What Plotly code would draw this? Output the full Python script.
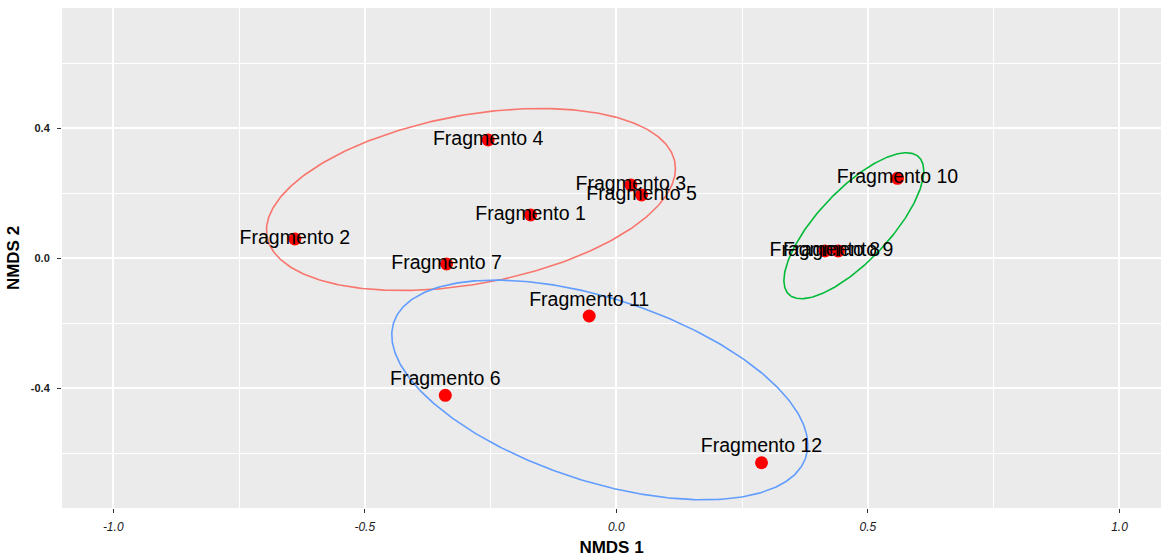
import numpy as np
import plotly.graph_objects as go

# ---- data ----
labels = ["Fragmento 1", "Fragmento 2", "Fragmento 3", "Fragmento 4", "Fragmento 5",
          "Fragmento 6", "Fragmento 7", "Fragmento 8", "Fragmento 9", "Fragmento 10",
          "Fragmento 11", "Fragmento 12"]
nmds1 = [-0.1705, -0.639, 0.0288, -0.2548, 0.050, -0.340, -0.3375, 0.4143, 0.4409, 0.5588, -0.054, 0.2885]
nmds2 = [0.1332, 0.0594, 0.2255, 0.364, 0.1948, -0.4215, -0.0175, 0.0225, 0.0225, 0.246, -0.1775, -0.629]
label_pos = ["middle center"] * 5 + ["top center"] + ["middle center"] * 4 + ["top center", "top center"]

# ellipses: centre x, centre y, x half-extent, y half-extent, correlation
ell_names = ["grupo 1", "grupo 2", "grupo 3"]
ell_cx = [-0.289, -0.033, 0.472]
ell_cy = [0.181, -0.405, 0.1003]
ell_sx = [0.4064, 0.4134, 0.139]
ell_sy = [0.280, 0.338, 0.2246]
ell_r = [0.34, -0.50, 0.75]
ell_colors = ["#F8766D", "#619CFF", "#00BA38"]

x_ticks = [-1.0, -0.5, 0.0, 0.5, 1.0]
x_ticktext = ["-1.0", "-0.5", "0.0", "0.5", "1.0"]
x_minor = [-0.75, -0.25, 0.25, 0.75]
y_ticks = [-0.4, 0.0, 0.4]
y_ticktext = ["-0.4", "0.0", "0.4"]
y_minor = [-0.6, -0.2, 0.2, 0.6]

fig = go.Figure()

t = np.linspace(0, 2 * np.pi, 361)
for name, cx, cy, sx, sy, r, col in zip(ell_names, ell_cx, ell_cy, ell_sx, ell_sy, ell_r, ell_colors):
    cov = np.array([[sx * sx, r * sx * sy], [r * sx * sy, sy * sy]])
    L = np.linalg.cholesky(cov)
    pts = L @ np.vstack([np.cos(t), np.sin(t)])
    fig.add_trace(go.Scatter(x=cx + pts[0], y=cy + pts[1], mode="lines",
                             line=dict(color=col, width=1.6), name=name,
                             hoverinfo="skip", showlegend=False))

fig.add_trace(go.Scatter(x=nmds1, y=nmds2, mode="markers",
                         marker=dict(color="#FF0000", size=13, line=dict(width=0)),
                         showlegend=False, hoverinfo="skip"))
fig.add_trace(go.Scatter(x=nmds1, y=nmds2, mode="markers+text", text=labels,
                         textposition=label_pos,
                         marker=dict(size=7, opacity=0),
                         textfont=dict(family="Liberation Sans, Arial", size=19.5, color="#000000"),
                         showlegend=False, hoverinfo="skip"))

fig.update_layout(
    width=1162, height=557,
    margin=dict(l=62, r=1, t=8, b=49),
    paper_bgcolor="white", plot_bgcolor="#EBEBEB",
    showlegend=False,
)
fig.update_xaxes(
    range=[-1.1018, 1.0825], tickmode="array", tickvals=x_ticks, ticktext=x_ticktext,
    showgrid=True, gridcolor="white", gridwidth=1.7, zeroline=False,
    ticks="outside", ticklen=4, tickwidth=1, tickcolor="#333333", ticklabelstandoff=4,
    tickfont=dict(family="Liberation Sans, Arial", size=12, style="italic", color="#1a1a1a"),
    minor=dict(tickmode="array", tickvals=x_minor, showgrid=True, gridcolor="white", gridwidth=0.8, ticks=""),
    title=dict(text="NMDS 1", standoff=10,
               font=dict(family="Liberation Sans, Arial", size=17, weight="bold", color="#000000")),
    showline=False, automargin=False,
)
fig.update_yaxes(
    range=[-0.7683, 0.7702], tickmode="array", tickvals=y_ticks, ticktext=y_ticktext,
    showgrid=True, gridcolor="white", gridwidth=1.7, zeroline=False,
    ticks="outside", ticklen=4, tickwidth=1, tickcolor="#333333", ticklabelstandoff=5,
    tickfont=dict(family="Liberation Sans, Arial", size=11, weight="bold", color="#1a1a1a"),
    minor=dict(tickmode="array", tickvals=y_minor, showgrid=True, gridcolor="white", gridwidth=0.8, ticks=""),
    title=dict(text="NMDS 2", standoff=6,
               font=dict(family="Liberation Sans, Arial", size=17, weight="bold", color="#000000")),
    showline=False, automargin=False,
)

fig.write_html("out.html")
